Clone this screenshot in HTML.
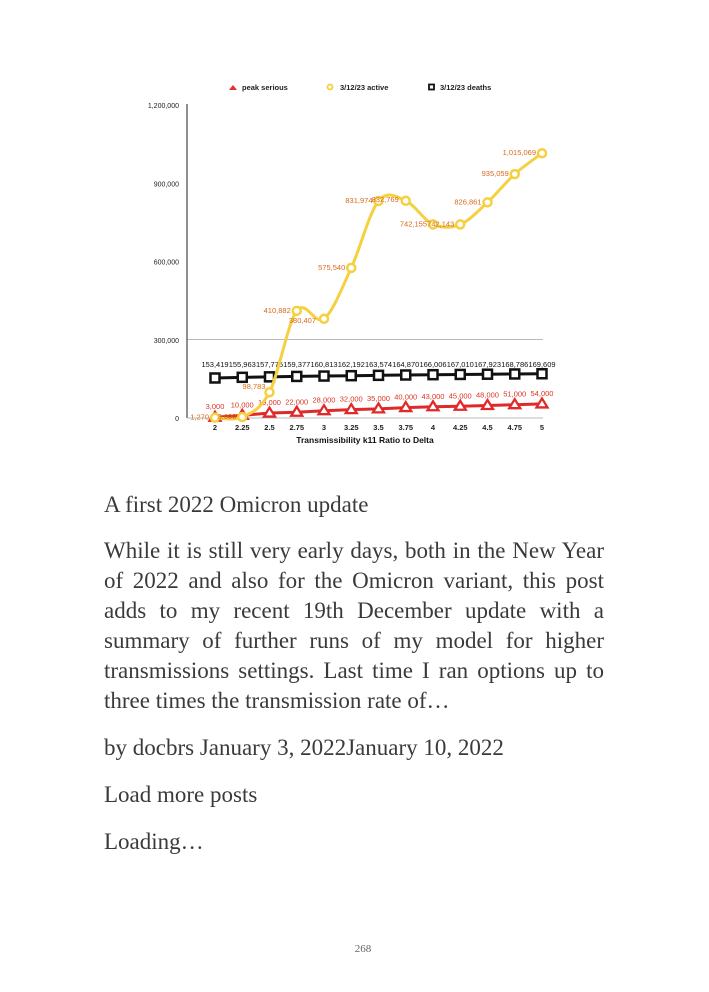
<!DOCTYPE html>
<html><head><meta charset="utf-8"><style>
body{margin:0;width:709px;height:992px;background:#fff;position:relative;overflow:hidden}
.t{position:absolute;left:104px;width:500px;font-family:"Liberation Serif",serif;font-size:23px;color:#3a3a3a;white-space:nowrap}
.j{text-align:justify;text-align-last:justify}
</style></head><body>
<svg id="c" width="709" height="460" style="position:absolute;left:0;top:0" font-family="Liberation Sans, sans-serif"></svg>
<div class="t" style="top:492px">A first 2022 Omicron update</div>
<div class="t j" style="top:538px">While it is still very early days, both in the New Year</div>
<div class="t j" style="top:568px">of 2022 and also for the Omicron variant, this post</div>
<div class="t j" style="top:598px">adds to my recent 19th December update with a</div>
<div class="t j" style="top:628px">summary of further runs of my model for higher</div>
<div class="t j" style="top:658px">transmissions settings. Last time I ran options up to</div>
<div class="t" style="top:688px">three times the transmission rate of…</div>
<div class="t" style="top:735px">by docbrs January 3, 2022January 10, 2022</div>
<div class="t" style="top:782px">Load more posts</div>
<div class="t" style="top:829px">Loading…</div>
<div style="position:absolute;top:943px;left:0;width:726px;text-align:center;font-family:'Liberation Serif',serif;font-size:11px;color:#666">268</div>
<script>
var s=document.getElementById('c'),h='';
function Y(v){return 418-v*313/1200000}
var xs=[],lab=['2','2.25','2.5','2.75','3','3.25','3.5','3.75','4','4.25','4.5','4.75','5'];
for(var i=0;i<13;i++)xs.push(215+i*27.25);
var act=[1270,3600,98783,410882,380407,575540,831974,832769,742155,742143,826861,935059,1015069];
var dea=[153419,155963,157775,159377,160813,162192,163574,164870,166006,167010,167923,168786,169609];
var ser=[3000,10000,19000,22000,28000,32000,35000,40000,43000,45000,48000,51000,54000];
function fmt(n){return n.toString().replace(/\B(?=(\d{3})+(?!\d))/g,',')}
function smooth(p){var d='M'+p[0][0]+','+p[0][1];for(var i=0;i<p.length-1;i++){var a=p[i-1]||p[i],b=p[i],c=p[i+1],e=p[i+2]||c;
d+=' C'+(b[0]+(c[0]-a[0])/6)+','+(b[1]+(c[1]-a[1])/6)+' '+(c[0]-(e[0]-b[0])/6)+','+(c[1]-(e[1]-b[1])/6)+' '+c[0]+','+c[1];}return d}
h+='<line x1="187" y1="339.5" x2="543" y2="339.5" stroke="#bbb" stroke-width="1"/>';
h+='<line x1="187" y1="104" x2="187" y2="418" stroke="#222" stroke-width="1"/>';
h+='<line x1="187" y1="418" x2="543" y2="418" stroke="#bbb" stroke-width="1"/>';
[[0,'0'],[300000,'300,000'],[600000,'600,000'],[900000,'900,000'],[1200000,'1,200,000']].forEach(function(t){h+='<text x="179" y="'+(Y(t[0])+3)+'" font-size="7" text-anchor="end" fill="#222">'+t[1]+'</text>'});
for(i=0;i<13;i++)h+='<text x="'+xs[i]+'" y="430" font-size="7.5" font-weight="bold" text-anchor="middle" fill="#222">'+lab[i]+'</text>';
h+='<text x="365" y="443" font-size="8.5" font-weight="bold" text-anchor="middle" fill="#111">Transmissibility k11 Ratio to Delta</text>';
h+='<path d="M229,90 l4,-5 l4,5 z" fill="#d33"/><text x="242" y="90" font-size="7.5" font-weight="bold" fill="#222">peak serious</text>';
h+='<circle cx="330" cy="87" r="2.5" fill="none" stroke="#f3cf3a" stroke-width="1.8"/><text x="340" y="90" font-size="7.5" font-weight="bold" fill="#222">3/12/23 active</text>';
h+='<rect x="429" y="84.5" width="5" height="5" fill="none" stroke="#111" stroke-width="1.8"/><text x="440" y="90" font-size="7.5" font-weight="bold" fill="#222">3/12/23 deaths</text>';
var pd=xs.map(function(x,i){return [x,Y(dea[i])]});
h+='<polyline points="'+pd.join(' ')+'" fill="none" stroke="#111" stroke-width="3"/>';
pd.forEach(function(p,i){h+='<rect x="'+(p[0]-4.5)+'" y="'+(p[1]-4.5)+'" width="9" height="9" fill="#fff" stroke="#111" stroke-width="2.5"/>';
h+='<text x="'+p[0]+'" y="367" font-size="7.5" text-anchor="middle" fill="#111">'+fmt(dea[i])+'</text>'});
var ps=xs.map(function(x,i){return [x,Y(ser[i])]});
h+='<polyline points="'+ps.join(' ')+'" fill="none" stroke="#e02a2a" stroke-width="3"/>';
ps.forEach(function(p,i){h+='<path d="M'+p[0]+','+(p[1]-5.5)+' l5.5,9 l-11,0 z" fill="#fff" stroke="#e02a2a" stroke-width="2.3"/>';
h+='<text x="'+p[0]+'" y="'+(p[1]-8)+'" font-size="7.5" text-anchor="middle" fill="#d32">'+fmt(ser[i])+'</text>'});
var pa=xs.map(function(x,i){return [x,Y(act[i])]});
h+='<path d="'+smooth(pa)+'" fill="none" stroke="#f5d040" stroke-width="3"/>';
pa.forEach(function(p,i){h+='<circle cx="'+p[0]+'" cy="'+p[1]+'" r="4" fill="#fff" stroke="#f5d040" stroke-width="2.5"/>'});
var off=[[-6,2],[-6,2],[-4,-3],[-6,2],[-8,4],[-6,2],[-6,2],[-7,1],[-6,2],[-6,2],[-6,2],[-6,2],[-6,2]];
pa.forEach(function(p,i){h+='<text x="'+(p[0]+off[i][0])+'" y="'+(p[1]+off[i][1])+'" font-size="7.5" text-anchor="end" fill="#d96a1a">'+fmt(act[i])+'</text>'});
s.innerHTML=h;
</script>
</body></html>
